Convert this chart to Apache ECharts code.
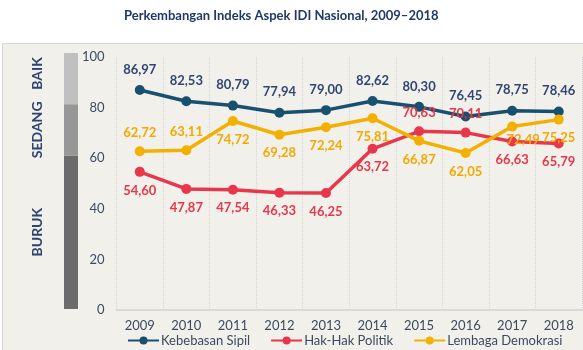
<!DOCTYPE html>
<html><head><meta charset="utf-8">
<script src="https://cdn.jsdelivr.net/npm/echarts@6/dist/echarts.min.js"></script>
<style>html,body{margin:0;padding:0;background:#fff}#c{width:583px;height:350px}</style>
</head><body><div id="c"></div>
<script>
var years = ['2009','2010','2011','2012','2013','2014','2015','2016','2017','2018'];
var kebebasanSipil = [86.97, 82.53, 80.79, 77.94, 79.00, 82.62, 80.30, 76.45, 78.75, 78.46];
var hakPolitik = [54.60, 47.87, 47.54, 46.33, 46.25, 63.72, 70.63, 70.11, 66.63, 65.79];
var lembagaDemokrasi = [62.72, 63.11, 74.72, 69.28, 72.24, 75.81, 66.87, 62.05, 72.49, 75.25];
var yTicks = [0, 20, 40, 60, 80, 100];
var bandNames = ['BURUK', 'SEDANG', 'BAIK'];
var bandSizes = [60, 20, 20];

var FONT = 'Lato';
function fmt(v){ return v.toFixed(2).replace('.', ','); }

var hakPos = ['bottom','bottom','bottom','bottom','bottom','bottom','top','top','bottom','bottom'];
var lemPos = ['top','top','bottom','bottom','bottom','bottom','bottom','bottom','bottom','bottom'];

function mk(vals, pos, extra){
  return vals.map(function(v,i){
    var o = {value: v, label: {position: pos ? pos[i] : 'top'}};
    if (extra && extra[i]) o.label.offset = extra[i];
    return o;
  });
}

var bandColors = ['#6b6b6b', '#979797', '#c0c0c0'];
var bandOffsets = [[-27, '50%'], [-27, '50%'], [-27, '40%']];
var bandSeries = bandSizes.map(function(s, i){
  return {
    type: 'bar', stack: 'band', xAxisIndex: 1, yAxisIndex: 1, barWidth: 14,
    data: [s], itemStyle: {color: bandColors[i]}, silent: true,
    label: {show: true, formatter: bandNames[i], position: bandOffsets[i], rotate: 90,
      align: 'center', verticalAlign: 'middle',
      color: '#2c4470', fontFamily: FONT, fontWeight: 'bold', fontSize: 14}
  };
});

var chart = echarts.init(document.getElementById('c'));
chart.setOption({
  animation: false,
  backgroundColor: '#ffffff',
  graphic: [{type: 'rect', shape: {x: 2.5, y: 43.5, width: 590, height: 320},
    style: {fill: '#f2f0eb', stroke: '#d6d6d6', lineWidth: 1}, z: -10}],
  title: {text: 'Perkembangan Indeks Aspek IDI Nasional, 2009\u20132018', left: 119, top: 4,
    textStyle: {fontFamily: FONT, fontWeight: 'bold', fontSize: 13, color: '#1f3a68'}},
  grid: [
    {left: 116.5, top: 57, width: 465.5, height: 253},
    {left: 64, top: 53, width: 14, height: 256}
  ],
  legend: {
    left: 122, top: 329, itemWidth: 31, itemHeight: 10, itemGap: 20,
    textStyle: {fontFamily: FONT, fontSize: 13, color: '#3a4a60', padding: [0,0,0,-3]},
    data: ['Kebebasan Sipil', 'Hak-Hak Politik', 'Lembaga Demokrasi']
  },
  xAxis: [
    {type: 'category', data: years, gridIndex: 0, boundaryGap: true,
      axisLine: {lineStyle: {color: '#d9d9d9', width: 2}}, axisTick: {show: false},
      axisLabel: {fontFamily: FONT, fontSize: 13, color: '#3a4a60', margin: 9},
      splitLine: {show: true, lineStyle: {color: '#d4d4d4', type: 'dotted', width: 1}}},
    {type: 'category', data: ['x'], gridIndex: 1, show: false, boundaryGap: false}
  ],
  yAxis: [
    {type: 'value', min: 0, max: 100, interval: 20, gridIndex: 0,
      axisLine: {show: false}, axisTick: {show: false}, splitLine: {show: false},
      axisLabel: {fontFamily: FONT, fontSize: 13, color: '#3a4a66', margin: 12,
        formatter: function(v){ return yTicks.indexOf(v) >= 0 ? String(v) : ''; }}},
    {type: 'value', min: 0, max: 100, gridIndex: 1, show: false}
  ],
  series: [
    {name: 'Kebebasan Sipil', type: 'line', data: mk(kebebasanSipil),
      symbol: 'circle', symbolSize: 10, lineStyle: {width: 3.5, color: '#18506f'},
      itemStyle: {color: '#18506f'},
      label: {show: true, distance: 9, formatter: function(p){return fmt(p.value);},
        fontFamily: FONT, fontWeight: 'bold', fontSize: 13, color: '#2f4675'}},
    {name: 'Hak-Hak Politik', type: 'line', data: mk(hakPolitik, hakPos),
      symbol: 'circle', symbolSize: 10, lineStyle: {width: 3.5, color: '#e8374b'},
      itemStyle: {color: '#e8374b'},
      label: {show: true, distance: 7, formatter: function(p){return fmt(p.value);},
        fontFamily: FONT, fontWeight: 'bold', fontSize: 13, color: '#e8374b'}},
    {name: 'Lembaga Demokrasi', type: 'line',
      data: mk(lembagaDemokrasi, lemPos, {8: [11, -5]}),
      symbol: 'circle', symbolSize: 10, lineStyle: {width: 3.5, color: '#f4b000'},
      itemStyle: {color: '#f4b000'},
      label: {show: true, distance: 7, formatter: function(p){return fmt(p.value);},
        fontFamily: FONT, fontWeight: 'bold', fontSize: 13, color: '#f2a900'}}
  ].concat(bandSeries)
});
</script></body></html>
